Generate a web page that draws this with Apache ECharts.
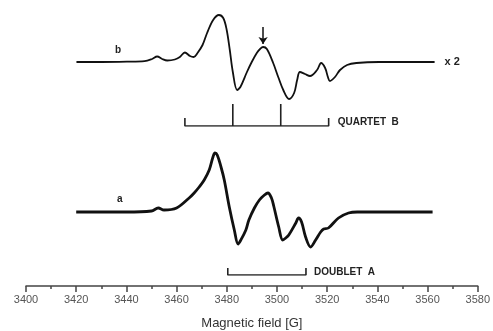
<!DOCTYPE html>
<html>
<head>
<meta charset="utf-8">
<script src="https://cdn.jsdelivr.net/npm/echarts@6/dist/echarts.min.js"></script>
<style>
  html, body { margin: 0; padding: 0; background: #fff; }
  #chart { width: 493px; height: 331px; }
</style>
</head>
<body>
<div id="chart"></div>
<script>
// field values (G) and intensities (arbitrary units, baseline 0)
const fieldB = [3420, 3430, 3440, 3447, 3450, 3452, 3454, 3456, 3459, 3461, 3463, 3465, 3466.5, 3468, 3470, 3471.8, 3474.2, 3476.5, 3478.2, 3479.5, 3480.8, 3482, 3483.7, 3485, 3487.6, 3489.5, 3491.5, 3492.8, 3494, 3495.5, 3498, 3500, 3502, 3504.3, 3506.3, 3507.5, 3508.6, 3510.6, 3512.6, 3515.4, 3517, 3518.6, 3519.7, 3520.5, 3522.5, 3524.5, 3527.3, 3531, 3540, 3562];
const spectrumB = [0, 0, 0.3, 0.8, 3, 5.5, 3, 1.5, 2.5, 5, 9.5, 6, 5, 9, 17, 29, 42, 47, 44, 33, 12, -10, -28, -25, -10, 0, 9, 13, 15, 13, -1, -15, -28, -37, -31, -18, -10, -12, -14, -8, -1, -6, -15, -19, -15, -8, -3, -1, 0, 0];

const fieldA = [3420, 3440, 3450, 3452.7, 3455, 3460, 3465, 3467, 3469, 3471, 3473, 3474.5, 3475.3, 3476.2, 3477.7, 3479, 3481, 3483, 3484.5, 3485.6, 3487.6, 3488.8, 3491, 3493, 3495, 3496.4, 3497.8, 3498.7, 3500.7, 3502.3, 3503.5, 3504.7, 3507.5, 3508.6, 3509.8, 3511.4, 3513.4, 3515.4, 3517.4, 3518.6, 3520.5, 3524.5, 3528.5, 3532, 3562];
const spectrumA = [0, 0, 1, 4, 2, 4, 14, 19, 25, 32, 42, 55, 59, 57, 45, 32, 5, -18, -32, -28, -18, -8, 4, 12, 17, 19, 14, 6, -15, -28, -26, -23, -11, -6, -10, -25, -35, -28, -20, -17, -16, -6, -1, 0, 0];

const quartetB = [3463, 3482, 3501, 3520];
const doubletA = [3480, 3511];
const markedPeak = 3494;

const xTicks = { min: 3400, max: 3580, interval: 20 };

function zip(xs, ys) { return xs.map((x, i) => [x, ys[i]]); }

// bracket path: outer ends short, inner lines tall
function bracket(pos, endH, midH) {
  const pts = [[pos[0], endH], [pos[0], 0]];
  for (let i = 1; i < pos.length - 1; i++) {
    pts.push([pos[i], 0], [pos[i], midH], [pos[i], 0]);
  }
  const last = pos[pos.length - 1];
  pts.push([last, 0], [last, endH], [last, 0]);
  return pts;
}

const hiddenX = (i) => ({ type: 'value', gridIndex: i, min: xTicks.min, max: xTicks.max, show: false });
const hiddenY = (i, min, max) => ({ type: 'value', gridIndex: i, min: min, max: max, show: false });

const chart = echarts.init(document.getElementById('chart'), null, { renderer: 'canvas' });

chart.setOption({
  animation: false,
  backgroundColor: '#fff',
  grid: [
    { left: 26, right: 13, top: 0, height: 130 },
    { left: 26, right: 13, top: 140, height: 146 },
    { left: 26, right: 13, top: 104, height: 22 },
    { left: 26, right: 13, top: 268, height: 7 }
  ],
  xAxis: [
    hiddenX(0),
    {
      type: 'value', gridIndex: 1,
      min: xTicks.min, max: xTicks.max, interval: xTicks.interval,
      splitLine: { show: false },
      axisLine: { onZero: false, lineStyle: { color: '#444', width: 1.5 } },
      axisTick: { length: 6, lineStyle: { color: '#444', width: 1.5 } },
      minorTick: { show: true, splitNumber: 2, length: 3, lineStyle: { color: '#444', width: 1.5 } },
      axisLabel: { color: '#555', fontSize: 11, fontFamily: 'Liberation Sans', margin: 8, formatter: (v) => String(v) },
      name: 'Magnetic field [G]',
      nameLocation: 'middle',
      nameGap: 31,
      nameTextStyle: { color: '#333', fontSize: 13, fontFamily: 'Liberation Sans' }
    },
    hiddenX(2),
    hiddenX(3)
  ],
  yAxis: [
    hiddenY(0, -68, 62),
    hiddenY(1, -74, 72),
    hiddenY(2, 0, 1),
    hiddenY(3, 0, 1)
  ],
  series: [
    {
      name: 'b', type: 'line', xAxisIndex: 0, yAxisIndex: 0,
      data: zip(fieldB, spectrumB),
      smooth: 0.35, showSymbol: false,
      lineStyle: { color: '#111', width: 1.8 },
      endLabel: { show: true, formatter: 'x 2', distance: 10, color: '#222', fontSize: 11, fontWeight: 'bold', fontFamily: 'Liberation Sans' },
      markLine: {
        silent: true, symbol: ['none', 'arrow'], symbolSize: 7,
        label: { show: false },
        lineStyle: { color: '#111', width: 1.5, type: 'solid' },
        data: [[{ coord: [markedPeak, 35] }, { coord: [markedPeak, 18] }]]
      }
    },
    {
      name: 'a', type: 'line', xAxisIndex: 1, yAxisIndex: 1,
      data: zip(fieldA, spectrumA),
      smooth: 0.35, showSymbol: false,
      lineStyle: { color: '#111', width: 2.8 }
    },
    {
      name: 'QUARTET B', type: 'line', xAxisIndex: 2, yAxisIndex: 2,
      data: bracket(quartetB, 0.36, 1),
      showSymbol: false,
      lineStyle: { color: '#222', width: 1.6 },
      endLabel: { show: true, formatter: 'QUARTET  B', distance: 9, offset: [0, -4], color: '#222', fontSize: 10, fontWeight: 'bold', fontFamily: 'Liberation Sans' }
    },
    {
      name: 'DOUBLET A', type: 'line', xAxisIndex: 3, yAxisIndex: 3,
      data: bracket(doubletA, 1, 1),
      showSymbol: false,
      lineStyle: { color: '#222', width: 1.6 },
      endLabel: { show: true, formatter: 'DOUBLET  A', distance: 8, offset: [0, -3], color: '#222', fontSize: 10, fontWeight: 'bold', fontFamily: 'Liberation Sans' }
    }
  ],
  graphic: [
    { type: 'text', left: 115, top: 45, style: { text: 'b', fill: '#222', font: 'bold 10px "Liberation Sans"' } },
    { type: 'text', left: 117, top: 194, style: { text: 'a', fill: '#222', font: 'bold 10px "Liberation Sans"' } }
  ]
});
</script>
</body>
</html>
